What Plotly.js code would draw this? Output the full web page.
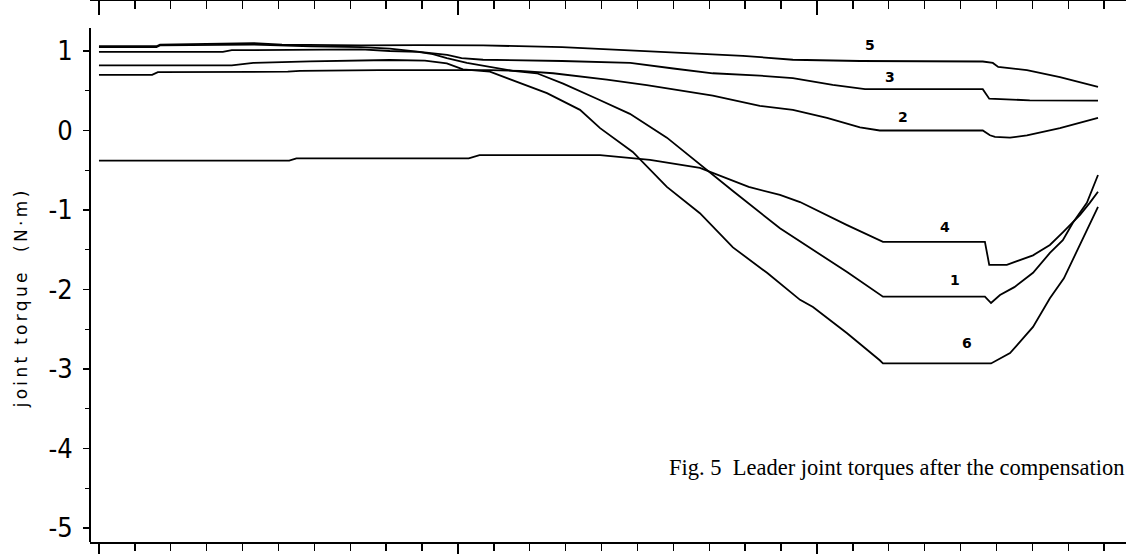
<!DOCTYPE html>
<html>
<head>
<meta charset="utf-8">
<script src="https://cdn.plot.ly/plotly-3.0.1.min.js"></script>
<style>
  html, body { margin: 0; padding: 0; background: #fff; }
  #chart { width: 1129px; height: 554px; }
</style>
</head>
<body>
<div id="chart"></div>
<script>
// ---- data (time axis in s, torque in N·m) ----
const x5 = [0, 1.6, 1.7, 4.3, 5.1, 5.9, 7.3, 8.9, 10.7, 12.9, 14.15, 15.15, 16.94, 17.94, 18.41, 19.33, 21.2, 24.62, 24.9, 25.05, 25.85, 26.77, 27.83];
const y5 = [1.06, 1.06, 1.08, 1.10, 1.08, 1.075, 1.07, 1.075, 1.07, 1.05, 1.02, 1.00, 0.96, 0.94, 0.925, 0.89, 0.874, 0.868, 0.85, 0.80, 0.76, 0.67, 0.55];

const x3 = [0, 1.6, 1.7, 4.3, 5.9, 7.3, 8.1, 8.9, 9.7, 10.1, 10.7, 12.9, 14.15, 14.8, 16.0, 17.1, 18.41, 19.33, 20.44, 21.34, 24.62, 24.8, 25.93, 27.83];
const y3 = [1.05, 1.05, 1.07, 1.08, 1.06, 1.05, 1.03, 0.99, 0.95, 0.91, 0.89, 0.874, 0.862, 0.85, 0.78, 0.72, 0.69, 0.66, 0.575, 0.52, 0.52, 0.40, 0.38, 0.375];

const x2 = [0, 1.48, 1.64, 5.26, 5.6, 7.8, 10.9, 11.73, 12.65, 13.76, 14.15, 15.26, 17.10, 18.41, 19.33, 20.28, 21.2, 21.75, 24.62, 24.82, 24.96, 25.38, 25.85, 26.77, 27.83];
const y2 = [0.70, 0.70, 0.735, 0.74, 0.75, 0.76, 0.76, 0.75, 0.72, 0.66, 0.64, 0.57, 0.44, 0.31, 0.26, 0.16, 0.04, 0.0, 0.0, -0.06, -0.08, -0.09, -0.06, 0.03, 0.16];

const x1 = [0, 3.45, 3.7, 7.3, 8.1, 8.89, 9.3, 9.69, 10.25, 10.89, 11.53, 12.2, 12.93, 13.87, 14.79, 15.82, 16.74, 17.66, 18.97, 19.89, 20.84, 21.84, 24.68, 24.85, 25.1, 25.5, 26.02, 26.49, 26.85, 27.13, 27.52, 27.83];
const y1 = [0.99, 0.99, 1.01, 1.02, 1.0, 0.99, 0.96, 0.91, 0.85, 0.80, 0.75, 0.72, 0.59, 0.40, 0.21, -0.09, -0.43, -0.76, -1.23, -1.50, -1.78, -2.09, -2.09, -2.17, -2.07, -1.97, -1.79, -1.54, -1.38, -1.16, -0.91, -0.56];

const x6 = [0, 3.7, 4.3, 5.88, 8.1, 9.08, 9.69, 10.14, 10.89, 11.53, 12.48, 13.4, 13.96, 14.87, 15.82, 16.74, 17.66, 18.61, 19.53, 19.89, 20.84, 21.75, 21.84, 24.85, 25.38, 26.02, 26.49, 26.88, 27.41, 27.83];
const y6 = [0.82, 0.82, 0.85, 0.87, 0.887, 0.878, 0.845, 0.77, 0.74, 0.635, 0.47, 0.26, 0.03, -0.27, -0.71, -1.04, -1.47, -1.79, -2.13, -2.22, -2.55, -2.89, -2.93, -2.93, -2.80, -2.47, -2.11, -1.86, -1.36, -0.96];

const x4 = [0, 5.3, 5.5, 10.3, 10.6, 13.96, 15.35, 16.74, 18.1, 18.97, 19.53, 20.84, 21.84, 24.68, 24.8, 25.29, 26.02, 26.49, 26.85, 27.33, 27.6, 27.83];
const y4 = [-0.38, -0.38, -0.35, -0.35, -0.31, -0.31, -0.37, -0.47, -0.71, -0.81, -0.90, -1.19, -1.40, -1.40, -1.69, -1.69, -1.57, -1.44, -1.28, -1.06, -0.91, -0.77];

const curveNames = ["1", "2", "3", "4", "5", "6"];
const labelX = [23.84, 22.40, 22.03, 23.57, 21.48, 24.18];
const labelY = [-1.88, 0.17, 0.67, -1.21, 1.075, -2.67];

const yTickVals = [1, 0, -1, -2, -3, -4, -5];
const yTickText = ["1", "0", "-1", "-2", "-3", "-4", "-5"];
const yMinorVals = [0.5, -0.5, -1.5, -2.5, -3.5, -4.5];
const xMajorVals = [0, 10, 20];

const yTitle = "joint torque  (N·m)";
const caption = "Fig. 5  Leader joint torques after the compensation";

// ---- traces ----
const series = [[x1, y1], [x2, y2], [x3, y3], [x4, y4], [x5, y5], [x6, y6]];
const lineStyle = { color: "#000", width: 1.8 };
const traces = series.map((s, i) => ({
  type: "scatter", mode: "lines", x: s[0], y: s[1],
  name: curveNames[i], line: lineStyle, hoverinfo: "skip", showlegend: false
}));
// top axis carrier (same data, invisible)
traces.push({ type: "scatter", mode: "lines", x: x5, y: y5, xaxis: "x2",
  line: { color: "rgba(0,0,0,0)", width: 0 }, hoverinfo: "skip", showlegend: false });

const yTop = 1.629, yBot = -5.176;

const annotations = [
  { text: yTitle, xref: "paper", yref: "paper", x: -0.0666, y: 0.451,
    xanchor: "center", yanchor: "middle", textangle: -90, showarrow: false, align: "center",
    font: { family: "DejaVu Sans, Verdana, sans-serif", size: 17, color: "#000" } },
  { text: caption, xref: "paper", yref: "paper", x: 1.001, y: 0.137,
    xanchor: "right", yanchor: "middle", showarrow: false,
    font: { family: "Liberation Serif, Times New Roman, serif", size: 22.5, color: "#000" } }
];
curveNames.forEach((n, i) => annotations.push({
  text: n, x: labelX[i], y: labelY[i], xref: "x", yref: "y", showarrow: false,
  xanchor: "center", yanchor: "middle",
  font: { family: "DejaVu Sans, sans-serif", size: 14, color: "#000", weight: "bold" }
}));

const layout = {
  width: 1129, height: 554,
  margin: { l: 90, r: 3, t: 1, b: 12, pad: 0 },
  paper_bgcolor: "#fff", plot_bgcolor: "#fff",
  showlegend: false,
  xaxis: {
    range: [-0.25, 28.61], showgrid: false, zeroline: false,
    showline: true, linecolor: "#000", linewidth: 2,
    ticks: "outside", tickmode: "array", tickvals: xMajorVals, ticklen: 12, tickwidth: 1.6, tickcolor: "#000",
    showticklabels: false,
    minor: { dtick: 1, tick0: 0, ticks: "outside", ticklen: 7, tickwidth: 1.4, tickcolor: "#000", showgrid: false }
  },
  xaxis2: {
    overlaying: "x", side: "top", matches: "x", anchor: "y",
    range: [-0.25, 28.61], showgrid: false, zeroline: false,
    showline: true, linecolor: "#000", linewidth: 1.5,
    ticks: "inside", tickmode: "array", tickvals: xMajorVals, ticklen: 14, tickwidth: 1.6, tickcolor: "#000",
    showticklabels: false,
    minor: { dtick: 1, tick0: 0, ticks: "inside", ticklen: 8, tickwidth: 1.4, tickcolor: "#000", showgrid: false }
  },
  yaxis: {
    range: [yBot, yTop], showgrid: false, zeroline: false, showline: false,
    ticks: "outside", tickmode: "array", tickvals: yTickVals, ticktext: yTickText,
    ticklen: 6, tickwidth: 1.6, tickcolor: "#000", ticklabelstandoff: 5,
    tickfont: { family: "Liberation Sans Narrow, DejaVu Sans Condensed, Liberation Sans, sans-serif", size: 27, color: "#000" },
    minor: { tickmode: "array", tickvals: yMinorVals, ticks: "outside", ticklen: 4, tickwidth: 1.4, tickcolor: "#000", showgrid: false }
  },
  shapes: [
    { type: "line", xref: "paper", yref: "y", x0: 0, x1: 0, y0: 1.29, y1: yBot,
      line: { color: "#000", width: 2 } }
  ],
  annotations: annotations
};

Plotly.newPlot("chart", traces, layout, { staticPlot: true, displayModeBar: false }).then(function (gd) {
  // widen the letter spacing of the rotated axis caption like the plotter font
  gd.querySelectorAll("text.annotation-text").forEach(function (t) {
    if ((t.getAttribute("data-unformatted") || "").indexOf("joint") === 0) {
      t.style.letterSpacing = "3.3px";
    }
  });
});
</script>
</body>
</html>
